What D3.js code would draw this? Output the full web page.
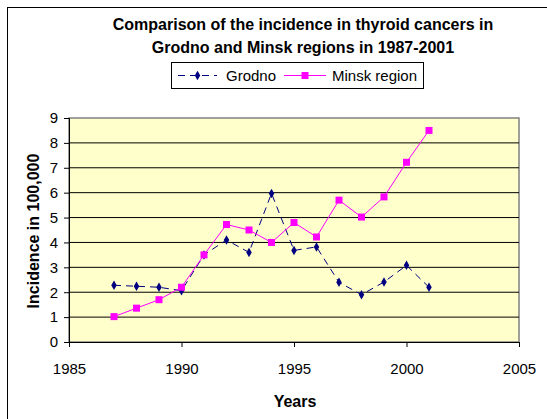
<!DOCTYPE html>
<html>
<head>
<meta charset="utf-8">
<script src="https://cdn.jsdelivr.net/npm/d3@7"></script>
<style>
  body { margin: 0; background: #fff; }
  svg { font-family: "Liberation Sans", Arial, sans-serif; display: block; }
</style>
</head>
<body>
<div id="chart"></div>
<script>
// data
const years = [1987, 1988, 1989, 1990, 1991, 1992, 1993, 1994, 1995, 1996, 1997, 1998, 1999, 2000, 2001];
const grodno = [2.28, 2.24, 2.2, 2.06, 3.5, 4.1, 3.6, 5.97, 3.68, 3.82, 2.4, 1.9, 2.41, 3.08, 2.2];
const minsk = [1.02, 1.36, 1.7, 2.2, 3.5, 4.72, 4.5, 4.0, 4.8, 4.22, 5.7, 5.02, 5.83, 7.22, 8.5];
const xTicks = [1985, 1990, 1995, 2000, 2005];
const yTicks = [0, 1, 2, 3, 4, 5, 6, 7, 8, 9];

const w = 547;
const h = 419;
const plot = { left: 69, right: 519, top: 118, bottom: 342 };

const svg = d3.select("#chart").append("svg")
              .attr("width", w)
              .attr("height", h);

// outer chart frame (runs off the right and bottom)
svg.append("rect")
   .attr("x", 7.5).attr("y", 7.5)
   .attr("width", 560).attr("height", 430)
   .attr("fill", "#fff")
   .attr("stroke", "#000")
   .attr("stroke-width", 1);

const x = d3.scaleLinear().domain([1985, 2005]).range([plot.left, plot.right]);
const y = d3.scaleLinear().domain([0, 9]).range([plot.bottom, plot.top]);

// plot background
svg.append("rect")
   .attr("x", plot.left).attr("y", plot.top)
   .attr("width", plot.right - plot.left)
   .attr("height", plot.bottom - plot.top)
   .attr("fill", "#FFFFCC")
   .attr("stroke", "#808080")
   .attr("stroke-width", 1.5);

// gridlines
svg.append("g")
   .selectAll("line")
   .data(yTicks.filter(d => d > 0 && d < 9))
   .enter()
   .append("line")
   .attr("x1", plot.left).attr("x2", plot.right)
   .attr("y1", d => y(d)).attr("y2", d => y(d))
   .attr("stroke", "#000")
   .attr("stroke-width", 1);

// axes
const yAxis = svg.append("g")
                 .attr("transform", `translate(${plot.left},0)`)
                 .call(d3.axisLeft(y).tickValues(yTicks).tickSize(5).tickPadding(6));
const xAxis = svg.append("g")
                 .attr("transform", `translate(0,${plot.bottom})`)
                 .call(d3.axisBottom(x).tickValues(xTicks).tickFormat(d3.format("d")).tickSize(5).tickPadding(16));

[yAxis, xAxis].forEach(a => {
  a.select(".domain").attr("stroke", "#000");
  a.selectAll(".tick line").attr("stroke", "#000");
  a.selectAll(".tick text").attr("font-size", 15).attr("fill", "#000")
   .attr("font-family", "Liberation Sans, Arial, sans-serif");
});

// series
const lineGen = vals => d3.line()
  .x((d, i) => x(years[i]))
  .y(d => y(d))(vals);

svg.append("path")
   .attr("d", lineGen(grodno))
   .attr("fill", "none")
   .attr("stroke", "#000080")
   .attr("stroke-width", 1)
   .attr("stroke-dasharray", "7,5");

svg.append("path")
   .attr("d", lineGen(minsk))
   .attr("fill", "none")
   .attr("stroke", "#FF00FF")
   .attr("stroke-width", 1);

const diamond = d3.symbol().type(d3.symbolDiamond).size(26);

svg.append("g")
   .selectAll("path")
   .data(grodno)
   .enter()
   .append("path")
   .attr("d", diamond)
   .attr("transform", (d, i) => `translate(${x(years[i])},${y(d)})`)
   .attr("fill", "#000080");

svg.append("g")
   .selectAll("rect")
   .data(minsk)
   .enter()
   .append("rect")
   .attr("x", (d, i) => x(years[i]) - 3.5)
   .attr("y", d => y(d) - 3.5)
   .attr("width", 7).attr("height", 7)
   .attr("fill", "#FF00FF");

// titles
const title = svg.append("text")
                 .attr("text-anchor", "middle")
                 .attr("font-weight", "bold")
                 .attr("font-size", 16);
title.append("tspan").attr("x", 303).attr("y", 30).text("Comparison of the incidence in thyroid cancers in");
title.append("tspan").attr("x", 303).attr("y", 53).text("Grodno and Minsk regions in 1987-2001");

svg.append("text")
   .attr("x", 295).attr("y", 407)
   .attr("text-anchor", "middle")
   .attr("font-weight", "bold")
   .attr("font-size", 16)
   .text("Years");

svg.append("text")
   .attr("transform", `translate(39,231) rotate(-90)`)
   .attr("text-anchor", "middle")
   .attr("font-weight", "bold")
   .attr("font-size", 16)
   .text("Incidence in 100,000");

// legend
const legend = svg.append("g");
legend.append("rect")
      .attr("x", 171.5).attr("y", 62.5)
      .attr("width", 252).attr("height", 26)
      .attr("fill", "#fff")
      .attr("stroke", "#000");

legend.append("line")
      .attr("x1", 178).attr("x2", 217).attr("y1", 75.5).attr("y2", 75.5)
      .attr("stroke", "#000080").attr("stroke-dasharray", "7,5").attr("stroke-width", 1);
legend.append("path")
      .attr("d", diamond)
      .attr("transform", "translate(197.5,75.5)")
      .attr("fill", "#000080");
legend.append("text")
      .attr("x", 226).attr("y", 81)
      .attr("font-size", 15)
      .text("Grodno");

legend.append("line")
      .attr("x1", 284).attr("x2", 326).attr("y1", 75.5).attr("y2", 75.5)
      .attr("stroke", "#FF00FF").attr("stroke-width", 1);
legend.append("rect")
      .attr("x", 301.5).attr("y", 72)
      .attr("width", 7).attr("height", 7)
      .attr("fill", "#FF00FF");
legend.append("text")
      .attr("x", 332).attr("y", 81)
      .attr("font-size", 15)
      .text("Minsk region");
</script>
</body>
</html>
